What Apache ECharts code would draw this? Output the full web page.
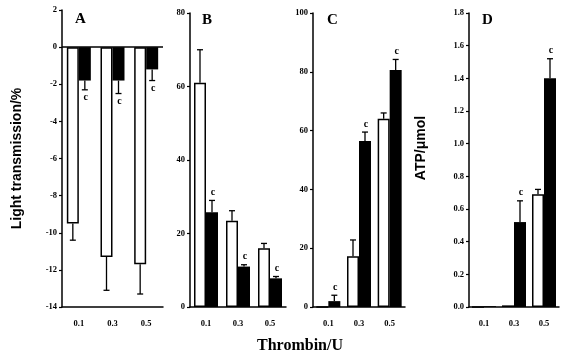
<!DOCTYPE html>
<html>
<head>
<meta charset="utf-8">
<script src="https://cdn.jsdelivr.net/npm/echarts@6/dist/echarts.min.js"></script>
<style>
  html, body { margin: 0; padding: 0; background: #fff; }
  #chart { width: 563px; height: 357px; }
</style>
</head>
<body>
<div id="chart"></div>
<script>
const categories = ['0.1', '0.3', '0.5']

// panel A - light transmission (%)
const aWhite = [-9.5, -11.3, -11.7]
const aWhiteErr = [0.9, 1.8, 1.6]
const aBlack = [-1.8, -1.8, -1.2]
const aBlackErr = [0.5, 0.7, 0.6]
const aMarks = ['c', 'c', 'c']

// panel B
const bWhite = [61, 23.5, 16]
const bWhiteErr = [9, 2.7, 1.3]
const bBlack = [25.8, 11, 7.8]
const bBlackErr = [3.2, 0.5, 0.5]
const bMarks = ['c', 'c', 'c']

// panel C
const cWhite = [0, 17.3, 64]
const cWhiteErr = [0, 5.5, 2]
const cBlack = [2, 56.5, 80.6]
const cBlackErr = [2, 3, 3.6]
const cMarks = ['c', 'c', 'c']

// panel D - ATP (umol)
const dWhite = [0, 0.01, 0.69]
const dWhiteErr = [0, 0, 0.03]
const dBlack = [0.005, 0.52, 1.4]
const dBlackErr = [0, 0.13, 0.12]
const dMarks = ['', 'c', 'c']

const BW = 12
const serif = 'Liberation Serif'
const sans = 'Liberation Sans'

function errorSeries(g, values, errs, marks, side) {
  return {
    type: 'custom',
    xAxisIndex: g,
    yAxisIndex: g,
    z: 5,
    silent: true,
    data: values.map((v, i) => [i, v, errs[i]]),
    renderItem(params, api) {
      const i = api.value(0)
      const v = api.value(1)
      const e = api.value(2)
      const dir = v < 0 ? -1 : 1
      const base = api.coord([i, v])
      const end = api.coord([i, v + dir * e])
      const x = base[0] + side * BW / 2
      const children = []
      if (e > 0) {
        children.push({ type: 'line', shape: { x1: x, y1: base[1], x2: x, y2: end[1] }, style: { stroke: '#000', lineWidth: 1.3 } })
        children.push({ type: 'line', shape: { x1: x - 3, y1: end[1], x2: x + 3, y2: end[1] }, style: { stroke: '#000', lineWidth: 1.3 } })
      }
      const m = marks ? marks[params.dataIndex] : ''
      if (m) {
        children.push({
          type: 'text',
          style: { text: m, x: x + 1, y: end[1] - dir * 8, align: 'center', verticalAlign: 'middle', font: 'bold 10px ' + serif, fill: '#000' }
        })
      }
      return { type: 'group', children }
    }
  }
}

function barPair(g, white, black, zeroLine) {
  const w = {
    type: 'bar', xAxisIndex: g, yAxisIndex: g, data: white, barWidth: BW, barGap: '0%',
    itemStyle: { color: '#fff', borderColor: '#000', borderWidth: 1.5 }
  }
  if (zeroLine) {
    w.markLine = {
      silent: true, symbol: 'none', label: { show: false },
      lineStyle: { color: '#000', width: 1.5, type: 'solid' },
      data: [{ yAxis: 0 }]
    }
  }
  const b = {
    type: 'bar', xAxisIndex: g, yAxisIndex: g, data: black, barWidth: BW, barGap: '0%',
    itemStyle: { color: '#000' }
  }
  return [w, b]
}

const grids = [
  { left: 62, top: 10, width: 101, height: 297 },
  { left: 190, top: 13, width: 96, height: 294 },
  { left: 313, top: 13, width: 92, height: 294 },
  { left: 469, top: 13, width: 90, height: 294 }
]

const axisLine = { lineStyle: { color: '#000', width: 1.5 } }
const tickLabel = { color: '#000', fontFamily: serif, fontWeight: 'bold', fontSize: 8.5 }

const xAxes = grids.map((_, g) => ({
  type: 'category', gridIndex: g, data: categories,
  axisLine: { ...axisLine, onZero: false },
  axisTick: { show: false },
  axisLabel: { ...tickLabel, margin: 12 }
}))

const yRanges = [
  { min: -14, max: 2, interval: 2 },
  { min: 0, max: 80, interval: 20 },
  { min: 0, max: 100, interval: 20 },
  { min: 0, max: 1.8, interval: 0.2 }
]

const yAxes = yRanges.map((r, g) => ({
  type: 'value', gridIndex: g, ...r,
  splitLine: { show: false },
  axisLine: { show: true, ...axisLine },
  axisTick: { show: true, length: 3, lineStyle: { color: '#000', width: 1.2 } },
  axisLabel: {
    ...tickLabel, margin: 5,
    formatter: g === 3 ? (v) => v.toFixed(1) : (v) => String(v)
  }
}))
yAxes[0].name = 'Light transmission/%'
yAxes[0].nameLocation = 'middle'
yAxes[0].nameGap = 38
yAxes[0].nameTextStyle = { color: '#000', fontFamily: sans, fontWeight: 'bold', fontSize: 14 }
yAxes[3].name = 'ATP/μmol'
yAxes[3].nameLocation = 'middle'
yAxes[3].nameGap = 41
yAxes[3].nameTextStyle = { color: '#000', fontFamily: sans, fontWeight: 'bold', fontSize: 14, padding: [0, 0, 0, 24] }

const letterStyle = { color: '#000', fontFamily: serif, fontWeight: 'bold', fontSize: 15 }

const option = {
  animation: false,
  backgroundColor: '#fff',
  title: [
    { text: 'A', left: 75, top: 12, padding: 0, textStyle: letterStyle },
    { text: 'B', left: 202, top: 13, padding: 0, textStyle: letterStyle },
    { text: 'C', left: 327, top: 13, padding: 0, textStyle: letterStyle },
    { text: 'D', left: 482, top: 13, padding: 0, textStyle: letterStyle },
    { text: 'Thrombin/U', left: 300, top: 338, padding: 0, textAlign: 'center',
      textStyle: { color: '#000', fontFamily: serif, fontWeight: 'bold', fontSize: 16 } }
  ],
  grid: grids,
  xAxis: xAxes,
  yAxis: yAxes,
  series: [
    ...barPair(0, aWhite, aBlack, true),
    errorSeries(0, aWhite, aWhiteErr, null, -1),
    errorSeries(0, aBlack, aBlackErr, aMarks, 1),
    ...barPair(1, bWhite, bBlack),
    errorSeries(1, bWhite, bWhiteErr, null, -1),
    errorSeries(1, bBlack, bBlackErr, bMarks, 1),
    ...barPair(2, cWhite, cBlack),
    errorSeries(2, cWhite, cWhiteErr, null, -1),
    errorSeries(2, cBlack, cBlackErr, cMarks, 1),
    ...barPair(3, dWhite, dBlack),
    errorSeries(3, dWhite, dWhiteErr, null, -1),
    errorSeries(3, dBlack, dBlackErr, dMarks, 1)
  ]
}

const chart = echarts.init(document.getElementById('chart'))
chart.setOption(option)
</script>
</body>
</html>
